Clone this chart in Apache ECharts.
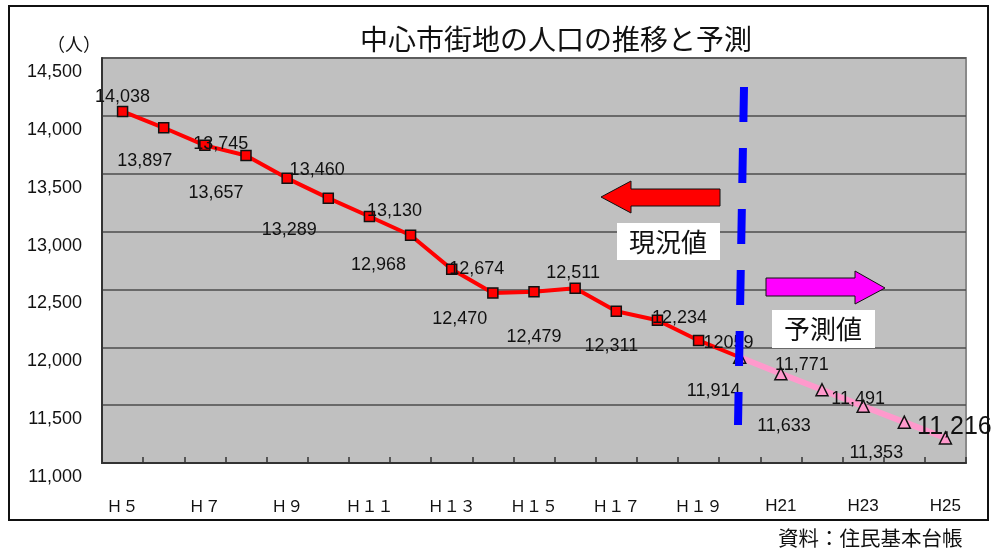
<!DOCTYPE html>
<html><head><meta charset="utf-8">
<script src="https://cdn.jsdelivr.net/npm/echarts@6/dist/echarts.min.js"></script>
<style>html,body{margin:0;padding:0;background:#fff}#c{width:997px;height:551px}</style>
</head><body><div id="c"></div>
<script>
const categories = ['H5','H6','H7','H8','H9','H10','H11','H12','H13','H14','H15','H16','H17','H18','H19','H20','H21','H22','H23','H24','H25'];
const tickLabels = ['Ｈ５','','Ｈ７','','Ｈ９','','Ｈ１１','','Ｈ１３','','Ｈ１５','','Ｈ１７','','Ｈ１９','','H21','','H23','','H25'];
const actualValues = [14038,13897,13745,13657,13460,13289,13130,12968,12674,12470,12479,12511,12311,12234,12059,11914];
const forecastValues = [11914,11771,11633,11491,11353,11216];
const valueLabels = ['14,038','13,897','13,745','13,657','13,460','13,289','13,130','12,968','12,674','12,470','12,479','12,511','12,311','12,234','12059','11,914','11,771','11,633','11,491','11,353','11,216'];
const yTicks = [11000,11500,12000,12500,13000,13500,14000,14500];

// label placement (style): offset from point centre
const labelOffsets = [[0,-14],[-19,33],[16,-1],[-30,37],[30,-8],[-39,32],[25,-5],[-32,30],[25,0],[-33,26],[0,45],[-2,-15],[-5,35],[22,-2],[30,3],[-26,34],[21,-9],[-38,36],[-5,-7],[-28,31],[9,-11]];

const lblFont = {fontFamily:'Liberation Sans', fontSize:18, color:'#111'};
const nA = actualValues.length;
const actualData = actualValues.map((v,i)=>({
  value:v,
  symbol: i===nA-1 ? 'none' : 'rect',
  label: i===nA-1 ? {show:false} : {show:true, position:'inside', offset:labelOffsets[i], formatter:valueLabels[i], ...lblFont}
}));
const forecastData = categories.map((c,i)=>{
  const k = i-(nA-1);
  if(k<0) return '-';
  const big = k===forecastValues.length-1;
  return {value:forecastValues[k], label:{show:true, position:'inside', offset:labelOffsets[i], formatter:valueLabels[i], ...lblFont, fontSize: big?25:18}};
});

const chart = echarts.init(document.getElementById('c'), null, {renderer:'canvas'});
chart.setOption({
  backgroundColor:'#fff',
  animation:false,
  title:{text:'中心市街地の人口の推移と予測', left:355, top:20,
    textStyle:{fontFamily:'Noto Sans CJK JP', fontSize:28, fontWeight:'normal', color:'#111'}},
  grid:{left:102, top:58, right:31, bottom:88, show:true, backgroundColor:'#C0C0C0', borderColor:'#8a8a8a', borderWidth:2},
  xAxis:{type:'category', data:categories, boundaryGap:true,
    axisLine:{lineStyle:{color:'#333', width:2}},
    axisTick:{show:true, inside:true, length:6, interval:0, lineStyle:{color:'#333', width:1.5}},
    axisLabel:{interval:0, margin:35, formatter:(v,i)=>{const t=tickLabels[i]; if(!t) return ''; return /^H/.test(t)?'{hw|'+t+'}':'{fw|'+t+'}';},
      rich:{fw:{fontFamily:'Noto Sans CJK JP', fontSize:16, color:'#111'}, hw:{fontFamily:'Liberation Sans', fontSize:17, color:'#111'}}},
    splitLine:{show:false}},
  yAxis:{type:'value', min:yTicks[0], max:yTicks[yTicks.length-1], interval:500,
    axisLine:{show:true, lineStyle:{color:'#333', width:2}},
    axisTick:{show:false},
    axisLabel:{margin:20, lineHeight:28, formatter:v=>'\n'+v.toLocaleString('en-US'), fontFamily:'Liberation Sans', fontSize:18, color:'#111'},
    splitLine:{lineStyle:{color:'#4d4d4d', width:1.5}}},
  graphic:[
    {type:'rect', shape:{x:9,y:6,width:979,height:514}, style:{fill:'none', stroke:'#111', lineWidth:2}, z:0},
    {type:'text', style:{text:'（人）', x:47, y:35, font:'18px "Noto Sans CJK JP"', fill:'#111'}},
    {type:'text', style:{text:'資料：住民基本台帳', x:778, y:528, font:'20.5px "Noto Sans CJK JP"', fill:'#111'}},
    {type:'line', shape:{x1:744,y1:87,x2:738,y2:425}, style:{stroke:'#0000ff', lineWidth:8, lineDash:[35,26]}, z:50},
    {type:'polygon', shape:{points:[[601,197],[631,181],[631,189],[720,189],[720,206],[631,206],[631,213]]}, style:{fill:'#ff0000', stroke:'#111', lineWidth:1}, z:50},
    {type:'polygon', shape:{points:[[766,278],[855,278],[855,271],[885,288],[855,304],[855,296],[766,296]]}, style:{fill:'#ff00ff', stroke:'#111', lineWidth:1}, z:50},
    {type:'rect', shape:{x:617,y:223,width:103,height:37}, style:{fill:'#fff'}, z:50},
    {type:'text', style:{text:'現況値', x:668, y:242, align:'center', verticalAlign:'middle', font:'26px "Noto Sans CJK JP"', fill:'#111'}, z:51},
    {type:'rect', shape:{x:772,y:310,width:103,height:38}, style:{fill:'#fff'}, z:50},
    {type:'text', style:{text:'予測値', x:823, y:329, align:'center', verticalAlign:'middle', font:'26px "Noto Sans CJK JP"', fill:'#111'}, z:51}
  ],
  series:[
    {type:'line', data:forecastData, symbol:'triangle', symbolSize:12, z:3,
      lineStyle:{color:'#ff99cc', width:6},
      itemStyle:{color:'#ff99cc', borderColor:'#111', borderWidth:1.5}},
    {type:'line', data:actualData, symbol:'rect', symbolSize:10, z:4,
      lineStyle:{color:'#ff0000', width:4},
      itemStyle:{color:'#ff0000', borderColor:'#111', borderWidth:1.5}}
  ]
});
</script></body></html>
